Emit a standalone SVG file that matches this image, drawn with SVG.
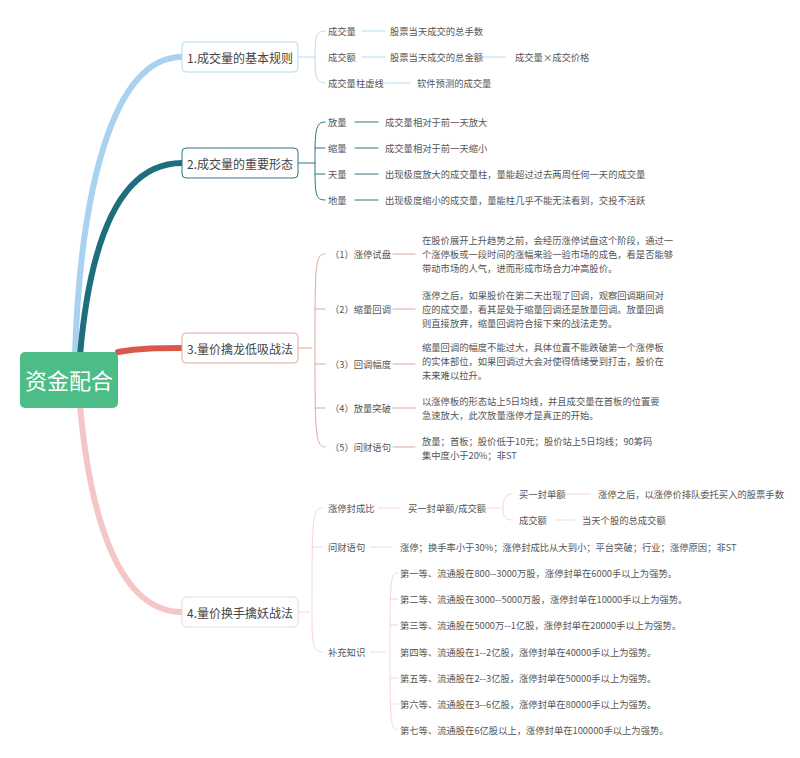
<svg xmlns="http://www.w3.org/2000/svg" width="800" height="758" viewBox="0 0 800 758">
<style>
text{font-family:"Noto Sans CJK SC","Liberation Sans",sans-serif;}
.l{font-size:9.3px;fill:#555;dominant-baseline:central}
.b{font-size:12px;fill:#444;dominant-baseline:central;text-anchor:middle}
.box{fill:#fff;stroke-width:1;rx:4}
.c1{stroke:#b6d9f2;fill:none}
.c2{stroke:#2a7582;fill:none}
.c3{stroke:#e0a79f;fill:none}
.c4{stroke:#f5d6d6;fill:none}
</style>
<rect width="800" height="758" fill="#fff"/>
<g id="connectors" stroke-linecap="round">
<path d="M75,355 C80,200 110,57 182,57" stroke="#a8d2f0" stroke-width="6" fill="none"/>
<path d="M80,355 C90,240 120,163 182,163" stroke="#1e6f7e" stroke-width="6" fill="none"/>
<path d="M118,352 C140,348 160,348 182,348" stroke="#d9584a" stroke-width="6" fill="none"/>
<path d="M80,405 C90,520 120,612 182,612" stroke="#f4c6c6" stroke-width="6" fill="none"/>
<g class="c1" stroke-width="1">
<path d="M298,57 H315 M325,31 C315,31 315,40 315,57 C315,74 315,83 325,83"/>
<path d="M362,31 H385 M362,57 H385 M480,57 H505 M385,83 H410"/>
</g>
<g class="c2" stroke-width="1">
<path d="M298,163 H315 M325,122 C315,122 315,132 315,163 C315,194 315,200 325,200 M315,148 H325 M315,174 H325"/>
<path d="M355,122 H378 M355,148 H378 M355,174 H378 M355,200 H378"/>
</g>
<g class="c3" stroke-width="1">
<path d="M298,348 H312 M325,254 C315,254 315,265 315,348 C315,430 315,447 325,447 M315,309 H325 M315,364 H325 M315,408 H325"/>
<path d="M393,254 H415 M393,309 H415 M393,364 H415 M393,408 H415 M393,447 H415"/>
</g>
<g class="c4" stroke-width="1">
<path d="M298,612 H310 M322,508 C312,508 312,520 312,612 C312,640 312,652 322,652 M312,547 H322"/>
<path d="M378,508 H400 M488,508 H500 M512,494 C505,494 503,500 503,508 C503,516 505,520 512,520 M565,494 H590 M555,520 H575 M370,547 H392 M370,652 H385"/>
<path d="M398,573 C390,573 390,580 390,652 C390,720 390,730 398,730 M390,599 H398 M390,625 H398 M390,678 H398 M390,704 H398"/>
</g>
</g>
<g id="root"><rect x="20" y="352" width="98" height="56" rx="5" fill="#4cbd86"/><text x="69" y="379" font-size="22" fill="#fff" text-anchor="middle" dominant-baseline="central">资金配合</text></g>
<g id="n1"><rect class="box" x="182" y="42" width="116" height="30" stroke="#b6d9f2"/><text class="b" x="240" y="57">1.成交量的基本规则</text></g>
<g id="n2"><rect class="box" x="182" y="148" width="116" height="30" stroke="#2a7582"/><text class="b" x="240" y="163">2.成交量的重要形态</text></g>
<g id="n3"><rect class="box" x="182" y="333" width="116" height="30" stroke="#e0a79f"/><text class="b" x="240" y="348">3.量价擒龙低吸战法</text></g>
<g id="n4"><rect class="box" x="182" y="597" width="116" height="30" stroke="#f5d6d6"/><text class="b" x="240" y="612">4.量价换手擒妖战法</text></g>
<g id="leaves1">
<text class="l" x="328" y="31">成交量</text><text class="l" x="390" y="31">股票当天成交的总手数</text>
<text class="l" x="328" y="57">成交额</text><text class="l" x="390" y="57">股票当天成交的总金额</text><text class="l" x="515" y="57">成交量×成交价格</text>
<text class="l" x="328" y="83">成交量柱虚线</text><text class="l" x="417" y="83">软件预测的成交量</text>
</g>
<g id="leaves2">
<text class="l" x="328" y="122">放量</text><text class="l" x="385" y="122">成交量相对于前一天放大</text>
<text class="l" x="328" y="148">缩量</text><text class="l" x="385" y="148">成交量相对于前一天缩小</text>
<text class="l" x="328" y="174">天量</text><text class="l" x="385" y="174">出现极度放大的成交量柱，量能超过过去两周任何一天的成交量</text>
<text class="l" x="328" y="200">地量</text><text class="l" x="385" y="200">出现极度缩小的成交量，量能柱几乎不能无法看到，交投不活跃</text>
</g>
<g id="leaves3">
<text class="l" x="330" y="254">（1）涨停试盘</text>
<text class="l" x="422" y="240">在股价展开上升趋势之前，会经历涨停试盘这个阶段，通过一</text>
<text class="l" x="422" y="254">个涨停板或一段时间的涨幅来验一验市场的成色，看是否能够</text>
<text class="l" x="422" y="268">带动市场的人气，进而形成市场合力冲高股价。</text>
<text class="l" x="330" y="309">（2）缩量回调</text>
<text class="l" x="422" y="295">涨停之后，如果股价在第二天出现了回调，观察回调期间对</text>
<text class="l" x="422" y="309">应的成交量，看其是处于缩量回调还是放量回调。放量回调</text>
<text class="l" x="422" y="323">则直接放弃，缩量回调符合接下来的战法走势。</text>
<text class="l" x="330" y="364">（3）回调幅度</text>
<text class="l" x="422" y="347">缩量回调的幅度不能过大，具体位置不能跌破第一个涨停板</text>
<text class="l" x="422" y="361">的实体部位，如果回调过大会对使得情绪受到打击，股价在</text>
<text class="l" x="422" y="375">未来难以拉升。</text>
<text class="l" x="330" y="408">（4）放量突破</text>
<text class="l" x="422" y="401">以涨停板的形态站上5日均线，并且成交量在首板的位置要</text>
<text class="l" x="422" y="415">急速放大，此次放量涨停才是真正的开始。</text>
<text class="l" x="330" y="447">（5）问财语句</text>
<text class="l" x="422" y="441">放量；首板；股价低于10元；股价站上5日均线；90筹码</text>
<text class="l" x="422" y="455">集中度小于20%；非ST</text>
</g>
<g id="leaves4">
<text class="l" x="328" y="508">涨停封成比</text><text class="l" x="408" y="508">买一封单额/成交额</text>
<text class="l" x="519" y="494">买一封单额</text><text class="l" x="598" y="494">涨停之后，以涨停价排队委托买入的股票手数</text>
<text class="l" x="519" y="520">成交额</text><text class="l" x="582" y="520">当天个股的总成交额</text>
<text class="l" x="328" y="547">问财语句</text><text class="l" x="400" y="547">涨停；换手率小于30%；涨停封成比从大到小；平台突破；行业；涨停原因；非ST</text>
<text class="l" x="328" y="652">补充知识</text>
<text class="l" x="400" y="573">第一等、流通股在800--3000万股，涨停封单在6000手以上为强势。</text>
<text class="l" x="400" y="599">第二等、流通股在3000--5000万股，涨停封单在10000手以上为强势。</text>
<text class="l" x="400" y="625">第三等、流通股在5000万--1亿股，涨停封单在20000手以上为强势。</text>
<text class="l" x="400" y="652">第四等、流通股在1--2亿股，涨停封单在40000手以上为强势。</text>
<text class="l" x="400" y="678">第五等、流通股在2--3亿股，涨停封单在50000手以上为强势。</text>
<text class="l" x="400" y="704">第六等、流通股在3--6亿股，涨停封单在80000手以上为强势。</text>
<text class="l" x="400" y="730">第七等、流通股在6亿股以上，涨停封单在100000手以上为强势。</text>
</g>
</svg>
